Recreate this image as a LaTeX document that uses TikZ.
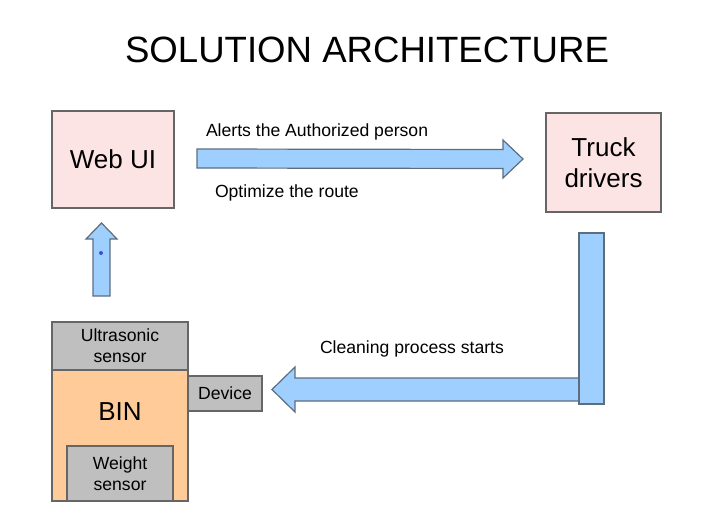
\documentclass[tikz,border=0pt]{standalone}
\usepackage{fontspec}
\setmainfont{Liberation Sans}
\usetikzlibrary{positioning,calc}
\definecolor{boxpink}{HTML}{FDE4E4}
\definecolor{boxline}{HTML}{666666}
\definecolor{arrowblue}{HTML}{9FCFFF}
\definecolor{arrowline}{HTML}{5C6D7E}
\definecolor{binorange}{HTML}{FFCC99}
\definecolor{sensorgray}{HTML}{BFBFBF}
\definecolor{dotblue}{HTML}{3B4FD8}

\begin{document}
\begin{tikzpicture}[x=1pt,y=-1pt,every node/.style={outer sep=0pt,inner sep=0pt},
		bigbox/.style={draw=boxline,line width=1.2pt,fill=boxpink,align=center,
		font=\fontsize{26}{31}\selectfont},
		graybox/.style={draw=boxline,line width=1.2pt,fill=sensorgray,align=center,
		font=\fontsize{17.6}{21}\selectfont},
		blockarrow/.style={draw=arrowline,fill=arrowblue,line width=1.2pt,line join=miter},
		label/.style={anchor=base west,font=\fontsize{17.6}{21}\selectfont},
		]
		\useasboundingbox (0,0) rectangle (720,530);
		% title
		\node[anchor=base,font=\fontsize{36.6}{44}\selectfont] (title) at (367,62) {SOLUTION ARCHITECTURE};

		% boxes
		\node[bigbox,minimum width=122pt,minimum height=97pt] (web) at (113,159.5) {Web UI};
		\node[bigbox,minimum width=115pt,minimum height=99pt] (truck) at (603.5,162.5) {Truck\\drivers};

		\node[draw=boxline,line width=1.2pt,fill=binorange,minimum width=136pt,minimum height=179pt] (bin) at (120,411.5) {};
		\node[graybox,minimum width=136pt,minimum height=48pt,anchor=north] (ultra) at (bin.north) {Ultrasonic\\sensor};
		\node[graybox,minimum width=106pt,minimum height=55pt,anchor=south] (weight) at (bin.south) {Weight\\sensor};
		\node[font=\fontsize{26}{31}\selectfont] (bintext) at (120,412) {BIN};
		\node[graybox,minimum width=74pt,minimum height=35pt,anchor=west] (device) at (188,393.5) {Device};

		% arrow web -> truck
		\coordinate (a1) at ($(web.east)+(23,-1)$);
		\coordinate (a2) at ($(truck.west)+(-23,-3.5)$);
		\draw[blockarrow] ($(a1)+(0,-9.5)$) -- ($(a2)+(-20,-9.5)$) -- ($(a2)+(-20,-19)$) -- (a2)
			-- ($(a2)+(-20,19)$) -- ($(a2)+(-20,9.5)$) -- ($(a1)+(0,9.5)$) -- cycle;

		% arrow bin -> web
		\coordinate (b1) at (101.5,296);
		\coordinate (b2) at ($(web.south)+(-11.5,15)$);
		\draw[blockarrow] ($(b1)+(-8.5,0)$) -- ($(b2)+(-8.5,16)$) -- ($(b2)+(-15.5,16)$) -- (b2)
			-- ($(b2)+(15.5,16)$) -- ($(b2)+(8.5,16)$) -- ($(b1)+(8.5,0)$) -- cycle;
		\fill[dotblue] (101,253) circle (2pt);

		% arrow truck -> device
		\coordinate (c1) at (590,389.5);
		\coordinate (c2) at ($(device.east)+(10,-4)$);
		\draw[blockarrow] ($(c1)+(0,-11.5)$) -- ($(c2)+(23,-11.5)$) -- ($(c2)+(23,-22.5)$) -- (c2)
			-- ($(c2)+(23,22.5)$) -- ($(c2)+(23,11.5)$) -- ($(c1)+(0,11.5)$) -- cycle;
		\draw[blockarrow] ($(truck.south)+(-24.5,21)$) rectangle ($(truck.south)+(0.5,192)$);

		% labels
		\node[label] (alerts) at (206,136) {Alerts the Authorized person};
		\node[label] (route) at (215,197) {Optimize the route};
		\node[label] (clean) at (320,353) {Cleaning process starts};
\end{tikzpicture}
\end{document}
